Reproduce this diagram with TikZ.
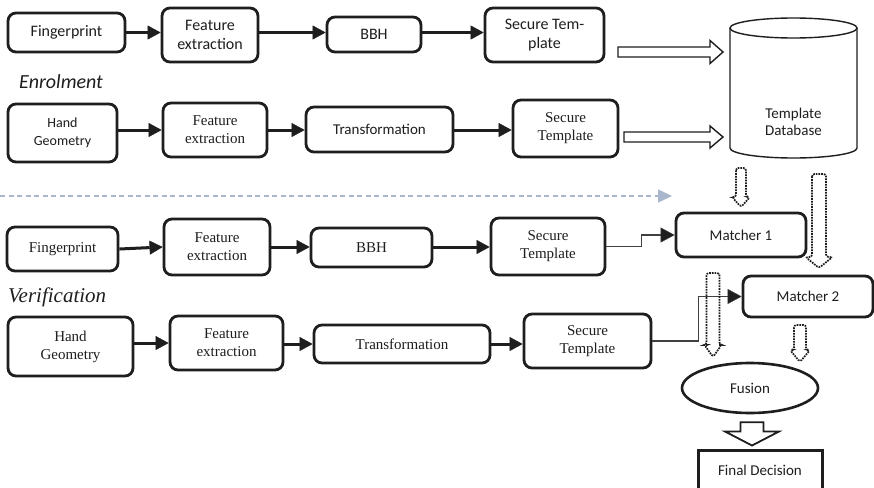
\documentclass[tikz,border=0pt]{standalone}
\usepackage{fontspec}
\setmainfont{Liberation Serif}
\newfontfamily\calfont{Carlito}
\usetikzlibrary{arrows.meta,shapes.geometric,calc}

\definecolor{inkgray}{HTML}{1E1E1E}
\definecolor{phaseline}{HTML}{A9B7CC}

% horizontal block arrow: style, start point, tip point, shaft half-width, head half-width, head length
\newcommand\hblock[6]{%
  \draw[#1] let \p1=#2, \p2=#3 in
    (\x1,\y1+#4) -- (\x2-#6,\y1+#4) -- (\x2-#6,\y1+#5) -- (\x2,\y1)
    -- (\x2-#6,\y1-#5) -- (\x2-#6,\y1-#4) -- (\x1,\y1-#4) -- cycle;}
% downward block arrow: style, top point, tip point, shaft half-width, head half-width, head length
\newcommand\vblock[6]{%
  \draw[#1] let \p1=#2, \p2=#3 in
    (\x1-#4,\y1) -- (\x1-#4,\y2+#6) -- (\x1-#5,\y2+#6) -- (\x1,\y2)
    -- (\x1+#5,\y2+#6) -- (\x1+#4,\y2+#6) -- (\x1+#4,\y1) -- cycle;}

\tikzset{
  sz/.style 2 args={minimum width=#1pt, minimum height=#2pt},
  box/.style={draw=inkgray, line width=2.8pt, rounded corners=8pt, align=center,
              inner sep=2pt, text=inkgray},
  sbox/.style={box, font=\calfont\fontsize{14}{18}\selectfont},
  bigsbox/.style={box, font=\calfont\fontsize{16}{19}\selectfont},
  rbox/.style={box, font=\fontsize{15}{18}\selectfont},
  flow/.style={line width=3pt, draw=inkgray,
               -{Triangle[length=13pt,width=14pt,line width=0.4pt]}},
  link/.style={line width=1.1pt, draw=black!75,
               -{Triangle[length=14pt,width=15pt,line width=0.4pt,fill=inkgray]}},
  hollow/.style={draw=inkgray, line width=1.4pt, fill=white},
  dotblock/.style={draw=inkgray, line width=1.7pt, densely dotted, rounded corners=2.5pt},
  phase/.style={anchor=west, inner sep=0pt, text=inkgray},
}

\begin{document}
\begin{tikzpicture}[x=1pt,y=-1pt]
\clip (0,0) rectangle (874,487);
\fill[white] (0,0) rectangle (874,487);

% ---------- enrolment ----------
\node[bigsbox, sz={117}{39}] (fp1) at (66.5,32.5) {Fingerprint};
\node[bigsbox, sz={96}{54}]  (fe1) at (210,35) {Feature\\extraction};
\node[bigsbox, sz={94}{35}]  (bbh1) at (374,34.5) {BBH};
\node[bigsbox, sz={119}{54}] (st1) at (544.5,35) {Secure Tem-\\plate};

\node[phase, font=\calfont\itshape\fontsize{20}{24}\selectfont] (enr) at (19,82) {Enrolment};

\node[sbox, sz={109}{58}] (hg1) at (62.5,133) {Hand\\Geometry};
\node[rbox, sz={104}{54}] (fe2) at (215,130) {Feature\\extraction};
\node[sbox, sz={147}{45}, font=\calfont\fontsize{15}{18}\selectfont] (tr1) at (379.5,129.5) {Transformation};
\node[rbox, sz={105}{57}] (st2) at (565.5,128.5) {Secure\\Template};

\draw[flow] (fp1.east) -- (fp1.east -| fe1.west);
\draw[flow] (fe1.east |- fp1.east) -- (fp1.east -| bbh1.west);
\draw[flow] (bbh1.east |- fp1.east) -- (fp1.east -| st1.west);
\draw[flow] (hg1.east |- fe2.west) -- (fe2.west);
\draw[flow] (fe2.east) -- (fe2.east -| tr1.west);
\draw[flow] (tr1.east |- fe2.east) -- (fe2.east -| st2.west);

% template database
\draw[inkgray, line width=1.4pt, fill=white]
  (730,28) -- (730,148) arc[start angle=180, end angle=360, x radius=63.5, y radius=-10]
  -- (857,28);
\draw[inkgray, line width=1.4pt] (793.5,28) ellipse[x radius=63.5, y radius=10];
\node[inner sep=0pt, sz={127}{140}] (db) at (793.5,88) {};
\node[align=center, text=inkgray, font=\calfont\fontsize{15}{17}\selectfont] (dbtext) at (793.5,122) {Template\\Database};

\coordinate (e1) at (618,52);  \coordinate (e1t) at (723,52);
\coordinate (e2) at (624,137); \coordinate (e2t) at (723,137);
\hblock{hollow}{(e1)}{(e1t)}{5}{11.5}{13}
\hblock{hollow}{(e2)}{(e2t)}{5}{11}{13}

% phase separator
\coordinate (sepA) at (0,196);
\coordinate (sepB) at (672,196);
\draw[phaseline, line width=1.5pt, dash pattern=on 5pt off 3.5pt,
      -{Triangle[length=14pt,width=13pt,fill=phaseline]}] (sepA) -- (sepB);

% ---------- verification ----------
\node[rbox, sz={111}{44}]  (fp2) at (62.5,249) {Fingerprint};
\node[rbox, sz={106}{56}]  (fe3) at (217,247) {Feature\\extraction};
\node[rbox, sz={121}{39}]  (bbh2) at (371.5,247.5) {BBH};
\node[rbox, sz={114}{57}]  (st3) at (548,246.5) {Secure\\Template};
\node[sbox, sz={130}{44}, font=\calfont\fontsize{15}{18}\selectfont]  (m1) at (741,235) {Matcher 1};

\node[phase, font=\rmfamily\itshape\fontsize{21}{24}\selectfont] (ver) at (8,297) {Verification};

\node[rbox, sz={125}{59}]  (hg2) at (70.5,346.5) {Hand\\Geometry};
\node[rbox, sz={113}{54}]  (fe4) at (226.5,343) {Feature\\extraction};
\node[rbox, sz={176}{38}]  (tr2) at (402,344) {Transformation};
\node[rbox, sz={127}{54}]  (st4) at (587.5,341) {Secure\\Template};
\node[sbox, sz={130}{41}, font=\calfont\fontsize{15}{18}\selectfont]  (m2) at (808,296.5) {Matcher 2};

\draw[flow] (fp2.east) -- (fe3.west);
\draw[flow] (fe3.east) -- (fe3.east -| bbh2.west);
\draw[flow] (bbh2.east |- fe3.east) -- (fe3.east -| st3.west);
\draw[flow] (hg2.east |- fe4.west) -- (fe4.west);
\draw[flow] (fe4.east |- tr2.west) -- (tr2.west);
\draw[flow] (tr2.east) -- (tr2.east -| st4.west);

\draw[link] (st3.east) -- ++(35,0) |- (m1.west);
\draw[link] (st4.east) -- ++(46,0) |- (m2.west);

% fusion and decision
\node[ellipse, draw=inkgray, line width=2.6pt, sz={136}{50}, inner sep=0pt,
      text=inkgray, font=\calfont\fontsize{15}{17}\selectfont] (fus) at (750,388) {Fusion};
\node[draw=inkgray, line width=3pt, sz={124}{40}, text=inkgray,
      font=\calfont\fontsize{15}{17}\selectfont] (fin) at (760,470) {Final Decision};

% dotted block arrows from database and matchers
\coordinate (d1) at (741,168); \coordinate (d1t) at (741,207);
\coordinate (d2) at (819,174); \coordinate (d2t) at (819,268);
\coordinate (d3) at (713,273); \coordinate (d3t) at (713,357);
\coordinate (d4) at (800,325); \coordinate (d4t) at (800,362);
\vblock{dotblock}{(d1)}{(d1t)}{5}{9}{10}
\vblock{dotblock}{(d2)}{(d2t)}{7}{13.5}{11}
\vblock{dotblock}{(d3)}{(d3t)}{6.5}{8.5}{12}
\vblock{dotblock}{(d4)}{(d4t)}{6}{10}{12}

\coordinate (f1) at ($(fus.south)+(2,8)$);
\coordinate (f1t) at ($(fin.north)+(-8,-3)$);
\vblock{hollow, line width=1.8pt}{(f1)}{(f1t)}{11.5}{27}{14}
\end{tikzpicture}
\end{document}
